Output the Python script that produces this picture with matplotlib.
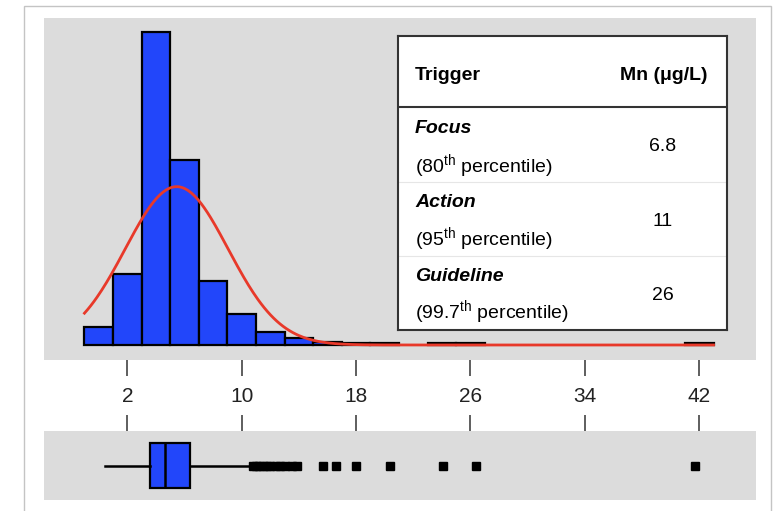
import numpy as np
import matplotlib
matplotlib.use("Agg")
import matplotlib.pyplot as plt
from matplotlib.patches import Rectangle

plt.rcParams['font.family'] = ['Liberation Sans', 'DejaVu Sans']
plt.rcParams['mathtext.fontset'] = 'custom'
plt.rcParams['mathtext.rm'] = 'Liberation Sans'

# histogram of Mn (ug/L), bins of width 2 starting at -1
bin_edges = [-1, 1, 3, 5, 7, 9, 11, 13, 15, 17, 19, 21, 23, 25, 27,
             29, 31, 33, 35, 37, 39, 41, 43]
counts = [11, 43, 190, 112, 39, 19, 8, 4, 2, 1, 1, 0, 1, 1,
          0, 0, 0, 0, 0, 0, 0, 1]

# fitted normal curve parameters
fit_mean = 5.45
fit_sd = 3.6

# boxplot summary
box_stats = dict(whislo=0.44, q1=3.59, med=4.64, q3=6.38, whishi=10.58,
                 fliers=[10.8, 11.0, 11.2, 11.5, 11.8, 12.0, 12.4, 12.7, 13.0,
                         13.5, 13.9, 15.7, 16.6, 18.0, 20.4, 24.1, 26.4, 41.7])

xticks = [2, 10, 18, 26, 34, 42]

# trigger table
triggers = ["Focus", "Action", "Guideline"]
percentiles = ["80", "95", "99.7"]
mn_values = ["6.8", "11", "26"]

gray = '#dcdcdc'
blue = '#2246fa'
red = '#e8392a'

fig = plt.figure(figsize=(7.74, 5.11), dpi=100)

# outer frame
fig.patches.append(Rectangle((24 / 774, -0.05), (771 - 24) / 774, 1.05 - 6 / 511,
                             transform=fig.transFigure, fill=False,
                             edgecolor='#c4c4c4', lw=1.0))

xlim = (-3.83, 45.97)

# histogram panel
ax = fig.add_axes([44 / 774, 1 - 360 / 511, 712 / 774, 342 / 511])
ax.set_facecolor(gray)
for s in ax.spines.values():
    s.set_visible(False)

lefts = np.array(bin_edges[:-1])
widths = np.diff(bin_edges)
cnt = np.array(counts)
keep = cnt > 0
ax.bar(lefts[keep], cnt[keep], width=widths[keep], align='edge',
       color=blue, edgecolor='black', linewidth=1.6, zorder=2)

xs = np.linspace(bin_edges[0], bin_edges[-1], 400)
scale = cnt.sum() * widths[0]
ys = scale * np.exp(-0.5 * ((xs - fit_mean) / fit_sd) ** 2) / (fit_sd * np.sqrt(2 * np.pi))
ax.plot(xs, ys, color=red, lw=2.0, zorder=3)

ax.set_xlim(*xlim)
ax.set_ylim(-9.1, 198.2)
ax.set_yticks([])
ax.set_xticks(xticks)
ax.set_xticklabels([str(t) for t in xticks], fontsize=15, color='#222222')
ax.tick_params(axis='x', direction='out', length=11.5, width=1.1,
               color='#333333', pad=8)

# box plot panel
bx = fig.add_axes([44 / 774, 1 - 500 / 511, 712 / 774, 69 / 511])
bx.set_facecolor(gray)
for s in bx.spines.values():
    s.set_visible(False)
bx.bxp([box_stats], positions=[1], widths=0.66, orientation='horizontal',
       showcaps=False, patch_artist=True,
       boxprops=dict(facecolor=blue, edgecolor='black', linewidth=1.6),
       medianprops=dict(color='black', linewidth=1.8),
       whiskerprops=dict(color='black', linewidth=1.8),
       flierprops=dict(marker='s', markersize=5.5, markerfacecolor='black',
                       markeredgecolor='black'))
bx.set_xlim(*xlim)
bx.set_ylim(0.5, 1.5)
bx.set_yticks([])
bx.set_xticks(xticks)
bx.tick_params(axis='x', top=True, bottom=False, labeltop=False,
               labelbottom=False, direction='out', length=11.5, width=1.1,
               color='#333333')

# table
tx = fig.add_axes([398 / 774, 1 - 330 / 511, 329 / 774, 294 / 511])
tx.set_facecolor('white')
tx.set_xticks([])
tx.set_yticks([])
for s in tx.spines.values():
    s.set_color('#333333')
    s.set_linewidth(1.5)
tx.set_xlim(0, 1)
tx.set_ylim(0, 1)
tx.axhline(0.7585, color='#333333', lw=1.5)
for yy in [0.5044, 0.2517]:
    tx.axhline(yy, color='#e6e6e6', lw=0.8)

fs = 14
tx.text(0.052, 0.867, "Trigger", fontsize=fs, fontweight='bold', va='center')
tx.text(0.942, 0.867, "Mn (μg/L)", fontsize=fs, fontweight='bold', va='center', ha='right')
name_y = [0.687, 0.433, 0.181]
pct_y = [0.5555, 0.306, 0.0578]
val_y = [0.6235, 0.3684, 0.1167]
for name, pct, val, y1, y2, y3 in zip(triggers, percentiles, mn_values, name_y, pct_y, val_y):
    tx.text(0.052, y1, name, fontsize=fs, fontweight='bold', fontstyle='italic', va='center')
    tx.text(0.052, y2, "(" + pct + r"$^{\mathrm{th}}$ percentile)", fontsize=fs, va='center')
    tx.text(0.805, y3, val, fontsize=fs, va='center', ha='center')

fig.savefig("out.png", dpi=100)
